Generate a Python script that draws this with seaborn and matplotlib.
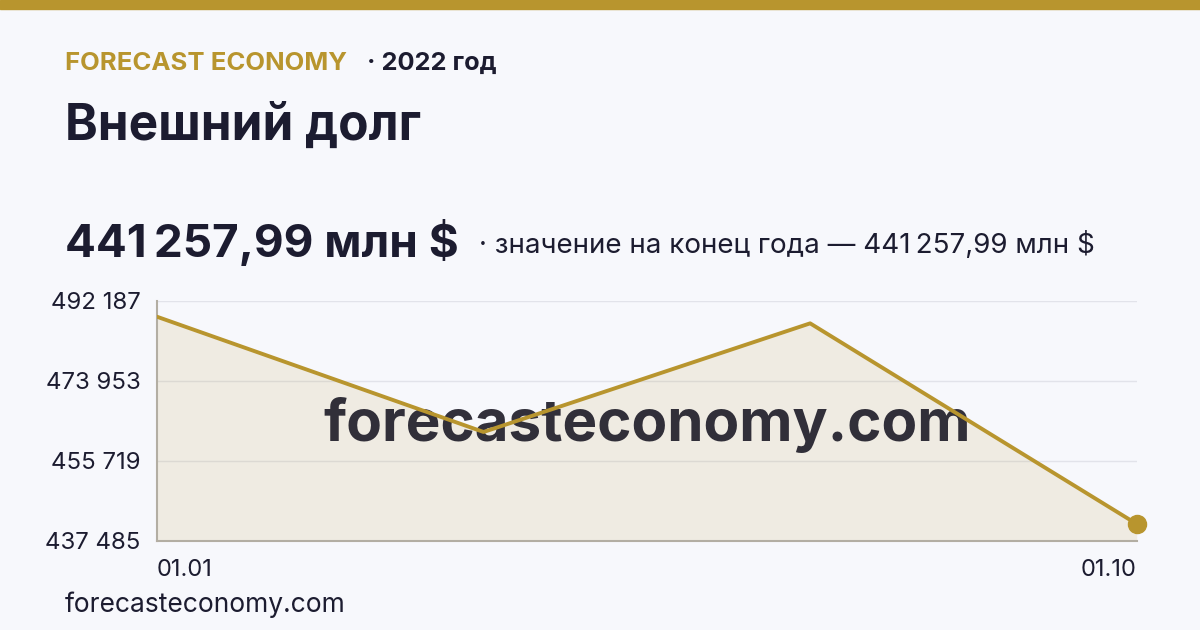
import matplotlib
matplotlib.use("Agg")
import matplotlib.pyplot as plt
import seaborn as sns
import pandas as pd
from matplotlib.patches import Rectangle

# ---- data ----
dates = ["01.01", "01.04", "01.07", "01.10"]
values = [488530, 462240, 487021, 441257.99]
y_ticks = [437485, 455719, 473953, 492187]
y_tick_labels = ["437 485", "455 719", "473 953", "492 187"]
x_tick_labels = ["01.01", "01.10"]

GOLD = "#b8952e"
DARK = "#1c1c30"
BG = "#f7f8fc"

sns.set_theme(style="white")
plt.rcParams["font.family"] = ["Inter", "DejaVu Sans"]

fig = plt.figure(figsize=(12, 6.3), dpi=100, facecolor=BG)
ax = fig.add_axes([157 / 1200, 1 - 540.5 / 630, (1136.7 - 157) / 1200, (540.5 - 300.7) / 630])
ax.set_facecolor(BG)

df = pd.DataFrame({"x": range(len(dates)), "value": values, "date": dates})

ax.fill_between(df["x"], df["value"], y_ticks[0], color=GOLD, alpha=0.12, linewidth=0, zorder=1)
for yt in y_ticks:
    ax.axhline(yt, color="#e2e3ea", lw=1, zorder=0.5)

ax.text(0.5, 0.48, "forecasteconomy.com", transform=ax.transAxes, ha="center", va="center",
        fontsize=42, fontweight="bold", color="#1c1a26", alpha=0.9, zorder=2)

sns.lineplot(data=df, x="x", y="value", ax=ax, color=GOLD, linewidth=2.8, zorder=3)
ax.plot([df["x"].iloc[-1]], [df["value"].iloc[-1]], "o", color=GOLD, markersize=13, zorder=4, clip_on=False)

ax.set_xlim(0, len(dates) - 1)
ax.set_ylim(y_ticks[0], y_ticks[-1])
ax.set_yticks(y_ticks)
ax.set_yticklabels(y_tick_labels, fontsize=17.3, color=DARK)
ax.set_xticks([0, len(dates) - 1])
ax.set_xticklabels(x_tick_labels, fontsize=17, color=DARK)
xl = ax.get_xticklabels()
xl[0].set_ha("left")
xl[1].set_ha("right")
ax.tick_params(axis="y", length=0, pad=12)
ax.tick_params(axis="x", length=0, pad=13)
ax.set_xlabel("")
ax.set_ylabel("")
for s in ["top", "right"]:
    ax.spines[s].set_visible(False)
for s in ["left", "bottom"]:
    ax.spines[s].set_color("#b3aea3")
    ax.spines[s].set_linewidth(1.5)

# top gold bar
fig.patches.append(Rectangle((0, 1 - 9 / 630), 1, 9 / 630, transform=fig.transFigure,
                             color=GOLD, zorder=10))

# header texts
fig.text(65 / 1200, 1 - 70 / 630, "FORECAST ECONOMY", fontsize=18.5, fontweight="bold",
         color=GOLD, ha="left", va="baseline")
fig.text(367 / 1200, 1 - 70 / 630, "· 2022 год", fontsize=18.3, fontweight="bold",
         color=DARK, ha="left", va="baseline")
fig.text(65 / 1200, 1 - 140 / 630, "Внешний долг", fontsize=35.7, fontweight="bold",
         color=DARK, ha="left", va="baseline")
fig.text(65 / 1200, 1 - 257 / 630, "441\u202f257,99 млн $", fontsize=33, fontweight="bold",
         color=DARK, ha="left", va="baseline")
fig.text(479 / 1200, 1 - 253 / 630, "· значение на конец года — 441\u202f257,99 млн $", fontsize=20,
         color=DARK, ha="left", va="baseline")
fig.text(65 / 1200, 1 - 612 / 630, "forecasteconomy.com", fontsize=19,
         color=DARK, ha="left", va="baseline")

fig.savefig("out.png", dpi=100, facecolor=BG)
